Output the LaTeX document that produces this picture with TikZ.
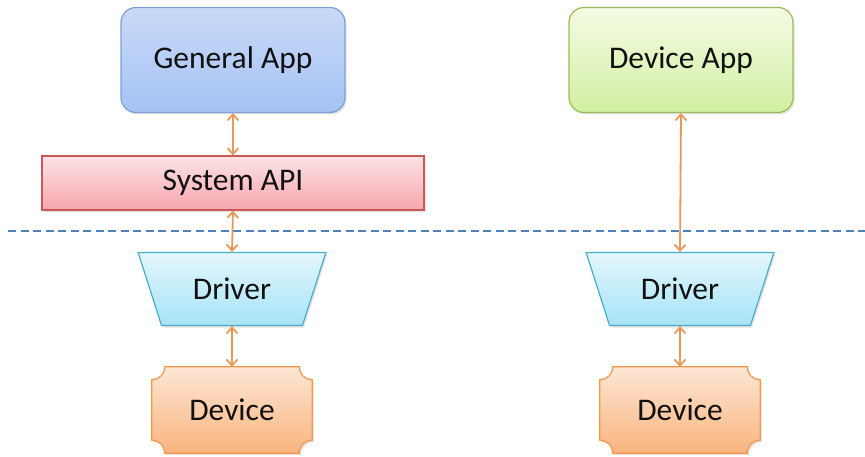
\documentclass[tikz,border=0pt]{standalone}
\usepackage{fontspec}
\setmainfont{Carlito}
\usetikzlibrary{positioning,shapes.geometric,arrows.meta,calc,backgrounds,shadows}
\definecolor{ink}     {HTML}{111111}
\definecolor{appblue} {HTML}{7F9FD3}
\definecolor{appgreen}{HTML}{9BBB59}
\definecolor{apired}  {HTML}{C95A58}
\definecolor{drvcyan} {HTML}{4BACC6}
\definecolor{devorng} {HTML}{F79646}
\definecolor{linkorng}{HTML}{E39A5C}
\definecolor{sepblue} {HTML}{4F81BD}
\definecolor{blueTop} {HTML}{C9DAF8}
\definecolor{blueBot} {HTML}{A5C2F4}
\definecolor{greenTop}{HTML}{F4FBE3}
\definecolor{greenBot}{HTML}{D2EFA2}
\definecolor{redTop}  {HTML}{FDE3E5}
\definecolor{redBot}  {HTML}{F6A5AD}
\definecolor{cyanTop} {HTML}{E3F7FC}
\definecolor{cyanBot} {HTML}{A7E3F7}
\definecolor{orngTop} {HTML}{FDE6D4}
\definecolor{orngBot} {HTML}{F9B47E}
\newcommand{\plr}{13pt}
% concave-corner outline round a named node
\newcommand{\plaque}[2]{%
  \draw[#2] ($(#1.north west)+(\plr,0)$) -- ($(#1.north east)+(-\plr,0)$)
    arc[start angle=180,end angle=270,radius=\plr] -- ($(#1.south east)+(0,\plr)$)
    arc[start angle=90,end angle=180,radius=\plr] -- ($(#1.south west)+(\plr,0)$)
    arc[start angle=0,end angle=90,radius=\plr] -- ($(#1.north west)+(0,-\plr)$)
    arc[start angle=270,end angle=360,radius=\plr] -- cycle;}
\tikzset{
  every node/.style={font=\fontsize{31.5}{36}\selectfont, text=ink},
  shad/.style  = {drop shadow={opacity=0.22, shadow xshift=1.5pt, shadow yshift=-2pt}},
  % --- nodes
  app/.style   = {rectangle, rounded corners=15pt, minimum width=224pt, minimum height=105pt,
                  line width=1.2pt, shad},
  genapp/.style= {app, draw=appblue, top color=blueTop, bottom color=blueBot},
  devapp/.style= {app, draw=appgreen, top color=greenTop, bottom color=greenBot},
  api/.style   = {rectangle, minimum width=382pt, minimum height=54pt, line width=1.2pt,
                  draw=apired, top color=redTop, bottom color=redBot, shad},
  drv/.style   = {trapezium, shape border rotate=180, trapezium angle=63.7,
                  trapezium stretches=true, minimum width=188pt, minimum height=73pt,
                  line width=1.2pt, draw=drvcyan, top color=cyanTop,
                  bottom color=cyanBot, shad},
  dev/.style   = {rectangle, minimum width=160pt, minimum height=86pt},
  devbody/.style={line width=1.2pt, draw=devorng, top color=orngTop,
                  bottom color=orngBot, shad},
  % --- edges
  link/.style  = {{Straight Barb[length=6pt,width=11pt]}-{Straight Barb[length=6pt,width=11pt]},
                  line width=1.8pt, draw=linkorng},
  sep/.style   = {line width=1.6pt, draw=sepblue, dash pattern=on 8pt off 4.5pt},
}
\begin{document}
\begin{tikzpicture}[x=1pt,y=1pt]
  \useasboundingbox (0,0) rectangle (865,456);
  % left column
  \node[genapp] (gapp) at (233,396) {General App};
  \node[api]    (api)  at (233,273) {System API};
  \node[drv]    (drvl) at (232,167) {Driver};
  \node[dev]    (devl) at (232,46)  {Device};
  % right column
  \node[devapp] (dapp) at (681,396) {Device App};
  \node[drv]    (drvr) at (680,167) {Driver};
  \node[dev]    (devr) at (680,46)  {Device};
  \begin{scope}[on background layer]
    \plaque{devl}{devbody}
    \plaque{devr}{devbody}
  \end{scope}
  % user / kernel boundary
  \coordinate (sepl) at (8,225);
  \coordinate (sepr) at (865,225);
  \draw[sep] (sepl) -- (sepr);
  \draw[link] (gapp.south) -- (api.north);
  \draw[link] (api.south)  -- (drvl.north);
  \draw[link] (drvl.south) -- (devl.north);
  \draw[link] (dapp.south) -- (drvr.north);
  \draw[link] (drvr.south) -- (devr.north);
\end{tikzpicture}
\end{document}
